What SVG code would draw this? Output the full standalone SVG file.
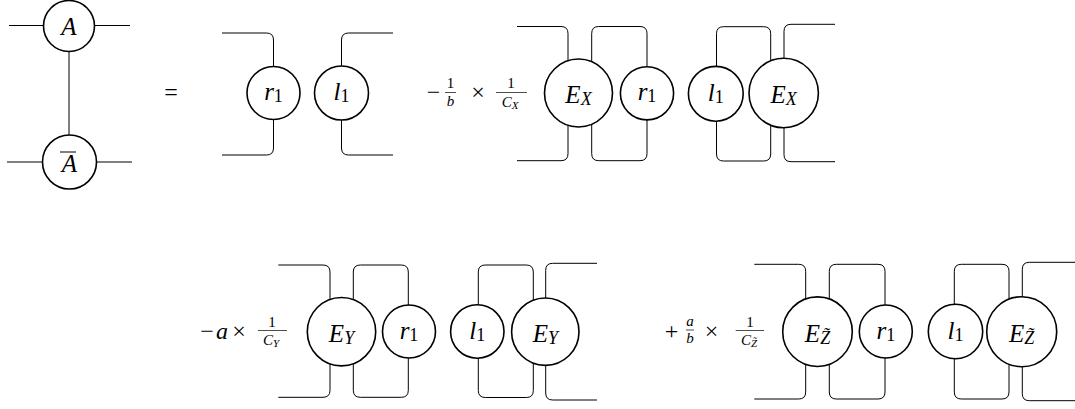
<svg xmlns="http://www.w3.org/2000/svg" width="1075" height="409" viewBox="0 0 1075 409">
<style>
.w{fill:none;stroke:#000;stroke-width:1}
.n{fill:#fff;stroke:#000;stroke-width:1.6}
.bar{stroke:#000;stroke-width:0.7}
</style>
<rect width="1075" height="409" fill="#fff"/>
<g id="connectors">
  <path class="w" d="M9,25.5H43M95,25.5H130M69,51V135M7,162H42M97,162H132"/>
  <path class="w" d="M222,33H266.5Q273.5,33 273.5,40V93M222,155H266.5Q273.5,155 273.5,148V93"/>
  <path class="w" d="M393,33H348.5Q341.5,33 341.5,40V93M393,155H348.5Q341.5,155 341.5,148V93"/>
  <path class="w" d="M517,26.5H561Q568,26.5 568,33.5V93M517,160.7H561Q568,160.7 568,153.7V93"/>
  <path class="w" d="M591.7,93V33.5Q591.7,26.5 598.7,26.5H640Q647,26.5 647,33.5V93M591.7,93V153.7Q591.7,160.7 598.7,160.7H640Q647,160.7 647,153.7V93"/>
  <path class="w" d="M716.5,93V33.7Q716.5,26.7 723.5,26.7H763.7Q770.7,26.7 770.7,33.7V93M716.5,93V154Q716.5,161 723.5,161H763.7Q770.7,161 770.7,154V93"/>
  <path class="w" d="M835,24.3H791Q784,24.3 784,31.3V93M835,161.7H791Q784,161.7 784,154.7V93"/>
  <path class="w" d="M278.3,265H323Q330,265 330,272V331M278.3,397.3H323Q330,397.3 330,390.3V331"/>
  <path class="w" d="M353.3,331V272Q353.3,265 360.3,265H401.3Q408.3,265 408.3,272V331M353.3,331V390.3Q353.3,397.3 360.3,397.3H401.3Q408.3,397.3 408.3,390.3V331"/>
  <path class="w" d="M478.3,331V272Q478.3,265 485.3,265H526.3Q533.3,265 533.3,272V331M478.3,331V390.5Q478.3,397.5 485.3,397.5H526.3Q533.3,397.5 533.3,390.5V331"/>
  <path class="w" d="M597,263.3H552.7Q545.7,263.3 545.7,270.3V331M597,400H552.7Q545.7,400 545.7,393V331"/>
  <path class="w" d="M754.3,264.3H798.7Q805.7,264.3 805.7,271.3V331M754.3,399H798.7Q805.7,399 805.7,392V331"/>
  <path class="w" d="M829.3,331V271.3Q829.3,264.3 836.3,264.3H878Q885,264.3 885,271.3V331M829.3,331V392Q829.3,399 836.3,399H878Q885,399 885,392V331"/>
  <path class="w" d="M954.3,331V271.3Q954.3,264.3 961.3,264.3H1002Q1009,264.3 1009,271.3V331M954.3,331V392Q954.3,399 961.3,399H1002Q1009,399 1009,392V331"/>
  <path class="w" d="M1075,262.3H1029.3Q1022.3,262.3 1022.3,269.3V331M1075,400.7H1029.3Q1022.3,400.7 1022.3,393.7V331"/>
</g>
<g font-family="Liberation Serif, serif" fill="#000" text-anchor="middle">
<g font-style="italic" font-size="25">
<g id="nodeA"><circle class="n" cx="69" cy="26" r="25.5"/><text x="69" y="35">A</text></g>
<g id="nodeAbar"><circle class="n" cx="69.5" cy="162" r="27"/><text x="69.5" y="172">A</text><line x1="60" y1="152" x2="76" y2="152" stroke="#000" stroke-width="1"/></g>
<g id="r1a"><circle class="n" cx="273.5" cy="93" r="26.5"/><text x="273.5" y="100">r<tspan font-size="18" font-style="normal" dy="2">1</tspan></text></g>
<g id="l1a"><circle class="n" cx="341.5" cy="93" r="27"/><text x="341.5" y="100">l<tspan font-size="18" font-style="normal" dy="2">1</tspan></text></g>
<g id="EXa"><circle class="n" cx="578.5" cy="93" r="34"/><text x="578.5" y="103">E<tspan font-size="18" dy="2">X</tspan></text></g>
<g id="r1b"><circle class="n" cx="647" cy="93.3" r="26.6"/><text x="647" y="100">r<tspan font-size="18" font-style="normal" dy="2">1</tspan></text></g>
<g id="l1b"><circle class="n" cx="715.8" cy="93.8" r="27.4"/><text x="715.8" y="101">l<tspan font-size="18" font-style="normal" dy="2">1</tspan></text></g>
<g id="EXb"><circle class="n" cx="783.7" cy="93" r="34.7"/><text x="783.7" y="103">E<tspan font-size="18" dy="2">X</tspan></text></g>
<g id="EYa"><circle class="n" cx="341.5" cy="331.7" r="34.2"/><text x="341.5" y="341.5">E<tspan font-size="18" dy="2">Y</tspan></text></g>
<g id="r1c"><circle class="n" cx="409" cy="331.5" r="26.5"/><text x="409" y="338.5">r<tspan font-size="18" font-style="normal" dy="2">1</tspan></text></g>
<g id="l1c"><circle class="n" cx="477.3" cy="331.5" r="26.7"/><text x="477.3" y="339">l<tspan font-size="18" font-style="normal" dy="2">1</tspan></text></g>
<g id="EYb"><circle class="n" cx="545.3" cy="331.7" r="33.7"/><text x="545.3" y="341.5">E<tspan font-size="18" dy="2">Y</tspan></text></g>
<g id="EZa"><circle class="n" cx="817.5" cy="331.7" r="34.8"/><text x="817.5" y="341.5">E<tspan font-size="18" dy="2">Z̃</tspan></text></g>
<g id="r1d"><circle class="n" cx="885.8" cy="331.5" r="26.5"/><text x="885.8" y="338.5">r<tspan font-size="18" font-style="normal" dy="2">1</tspan></text></g>
<g id="l1d"><circle class="n" cx="955.5" cy="331.5" r="27.2"/><text x="955.5" y="339">l<tspan font-size="18" font-style="normal" dy="2">1</tspan></text></g>
<g id="EZb"><circle class="n" cx="1021.7" cy="331.7" r="35"/><text x="1021.7" y="341.5">E<tspan font-size="18" dy="2">Z̃</tspan></text></g>
</g>
<text x="171" y="100" font-size="24">=</text>
<g id="coefX" font-size="15">
  <text x="433.5" y="100" font-size="24">−</text>
  <text x="450.5" y="88">1</text><line class="bar" x1="445" y1="92.5" x2="456" y2="92.5"/><text x="450.5" y="106" font-style="italic">b</text>
  <text x="478" y="100" font-size="24">×</text>
  <text x="511" y="88">1</text><line class="bar" x1="496" y1="92.5" x2="527" y2="92.5"/><text x="510" y="106.5" font-style="italic">C<tspan font-size="11" dy="2">X</tspan></text>
</g>
<g id="coefY" font-size="15">
  <text x="207" y="339" font-size="24">−</text>
  <text x="222" y="339" font-size="24" font-style="italic">a</text>
  <text x="239" y="339" font-size="24">×</text>
  <text x="272" y="326.5">1</text><line class="bar" x1="258" y1="330.5" x2="287" y2="330.5"/><text x="271" y="345" font-style="italic">C<tspan font-size="11" dy="2">Y</tspan></text>
</g>
<g id="coefZ" font-size="15">
  <text x="671.5" y="339" font-size="24">+</text>
  <text x="690" y="326" font-style="italic">a</text><line class="bar" x1="686" y1="330" x2="694" y2="330"/><text x="690" y="342.5" font-style="italic">b</text>
  <text x="711.5" y="339" font-size="24">×</text>
  <text x="750" y="326.5">1</text><line class="bar" x1="735.7" y1="330.5" x2="764" y2="330.5"/><text x="749" y="345" font-style="italic">C<tspan font-size="11" dy="2">Z̃</tspan></text>
</g>
</g>
</svg>
